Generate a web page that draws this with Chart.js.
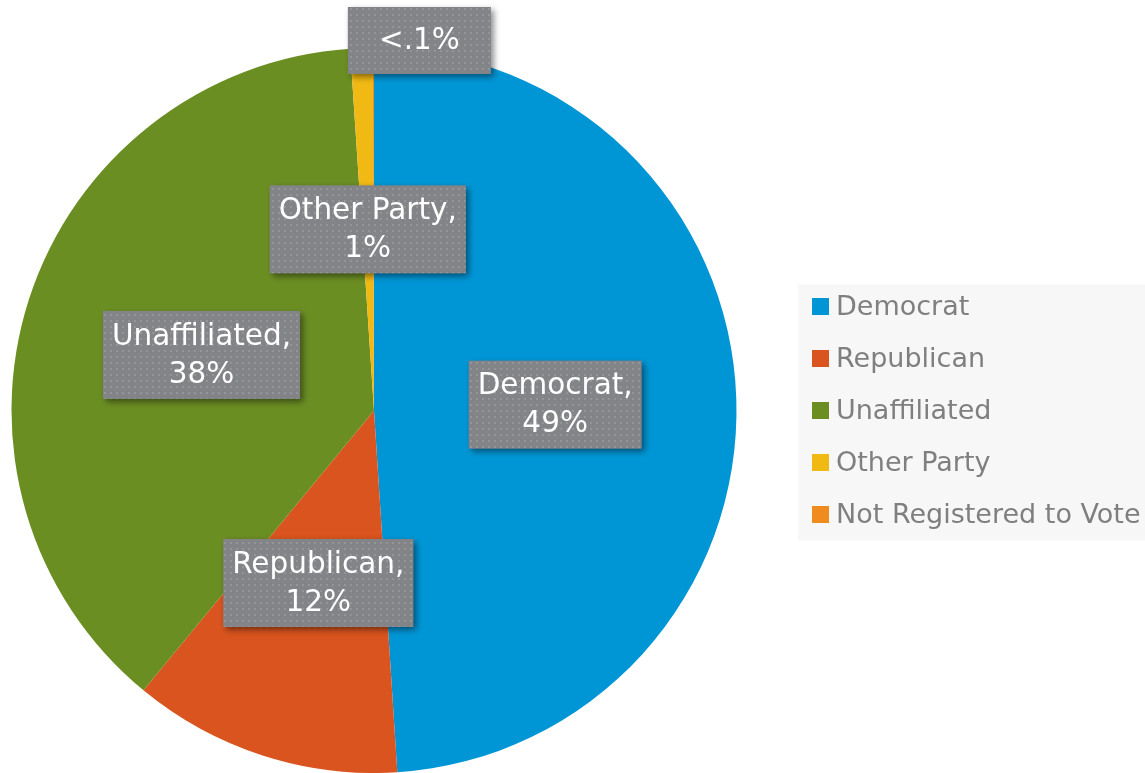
<!DOCTYPE html>
<html>
<head>
<meta charset="utf-8">
<script src="https://cdn.jsdelivr.net/npm/chart.js@4.4.0/dist/chart.umd.min.js"></script>
<style>
    html, body { margin: 0; padding: 0; background: #fff; }
    #wrap { width: 1145px; height: 773px; }
</style>
</head>
<body>
<div id="wrap"><canvas id="partyChart"></canvas></div>
<script>
const partyNames = ["Democrat", "Republican", "Unaffiliated", "Other Party", "Not Registered to Vote"];
const partyShares = [49, 12, 38, 1, 0.05];
const shareLabels = ["49%", "12%", "38%", "1%", "<.1%"];
const partyColors = ['rgb(0,150,214)', 'rgb(217,84,30)', 'rgb(107,142,35)', 'rgb(241,185,19)', 'rgb(240,140,30)'];

const labelFont = '29.5px "DejaVu Sans"';
const legendFont = '27px "DejaVu Sans"';

// dotted grey fill used behind the data labels
function makeDotPattern(ctx) {
    let tile = document.createElement("canvas");
    tile.width = 6;
    tile.height = 6;
    let t = tile.getContext("2d");
    t.fillStyle = 'rgb(131,132,136)';
    t.fillRect(0, 0, 6, 6);
    t.fillStyle = 'rgb(148,149,153)';
    t.fillRect(2, 2, 2, 2);
    return ctx.createPattern(tile, "repeat");
}

const boxLabels = {
    id: "boxLabels",
    afterDatasetsDraw(chart) {
        let ctx = chart.ctx;
        let meta = chart.getDatasetMeta(0);
        let pattern = makeDotPattern(ctx);
        ctx.save();
        ctx.font = labelFont;
        meta.data.forEach((arc, i) => {
            let p = arc.getProps(["x", "y", "startAngle", "endAngle", "outerRadius"], true);
            let small = partyShares[i] < 0.5;
            let lines = small ? [shareLabels[i]] : [partyNames[i] + ",", shareLabels[i]];
            let textW = Math.max(...lines.map(l => ctx.measureText(l).width));
            let w = Math.max(textW + 18, 143);
            let h = Math.max(lines.length * 38 + 12, 67);
            let left, top;
            if (small) {
                // tiny slice: label sits above the rim
                let px = p.x + Math.cos(p.startAngle) * p.outerRadius;
                let py = p.y + Math.sin(p.startAngle) * p.outerRadius;
                left = px - 25;
                top = py + 26 - h;
            } else {
                let mid = (p.startAngle + p.endAngle) / 2;
                let cx = p.x + Math.cos(mid) * p.outerRadius * 0.5;
                let cy = p.y + Math.sin(mid) * p.outerRadius * 0.5;
                left = cx - w / 2;
                top = cy - h / 2;
            }
            ctx.save();
            ctx.shadowColor = 'rgba(0,0,0,0.45)';
            ctx.shadowBlur = 6;
            ctx.shadowOffsetX = 3;
            ctx.shadowOffsetY = 3;
            ctx.fillStyle = pattern;
            ctx.fillRect(left, top, w, h);
            ctx.restore();
            ctx.fillStyle = '#fff';
            ctx.textAlign = "center";
            ctx.textBaseline = "middle";
            let y0 = top + h / 2 - (lines.length - 1) * 19 + 1;
            lines.forEach((l, k) => ctx.fillText(l, left + w / 2, y0 + k * 38));
        });
        ctx.restore();
    }
};

const sideLegend = {
    id: "sideLegend",
    afterDraw(chart) {
        let ctx = chart.ctx;
        let mid = (chart.chartArea.top + chart.chartArea.bottom) / 2;
        let rowGap = 52;
        let boxLeft = 798;
        let top0 = mid - rowGap * (partyNames.length - 1) / 2;
        ctx.save();
        ctx.fillStyle = '#f7f7f7';
        ctx.fillRect(boxLeft, top0 - 22, chart.width - boxLeft, rowGap * (partyNames.length - 1) + 48);
        ctx.font = legendFont;
        ctx.textBaseline = "middle";
        partyNames.forEach((name, i) => {
            let y = top0 + i * rowGap;
            ctx.fillStyle = partyColors[i];
            ctx.fillRect(boxLeft + 14, y - 8.5, 17, 17);
            ctx.fillStyle = '#7f7f7f';
            ctx.fillText(name, boxLeft + 38, y + 1);
        });
        ctx.restore();
    }
};

let partyChartCanvas = document.getElementById("partyChart").getContext("2d");
let partyChart = new Chart(partyChartCanvas, {
    type: "pie",
    data: {
        labels: partyNames,
        datasets: [{
            data: partyShares,
            backgroundColor: partyColors,
            borderWidth: 0
        }]
    },
    options: {
        responsive: true,
        maintainAspectRatio: false,
        animation: false,
        layout: {
            padding: { left: 11, right: 408, top: 48, bottom: -1 }
        },
        plugins: {
            legend: { display: false },
            tooltip: { enabled: false }
        }
    },
    plugins: [boxLabels, sideLegend]
});
</script>
</body>
</html>
